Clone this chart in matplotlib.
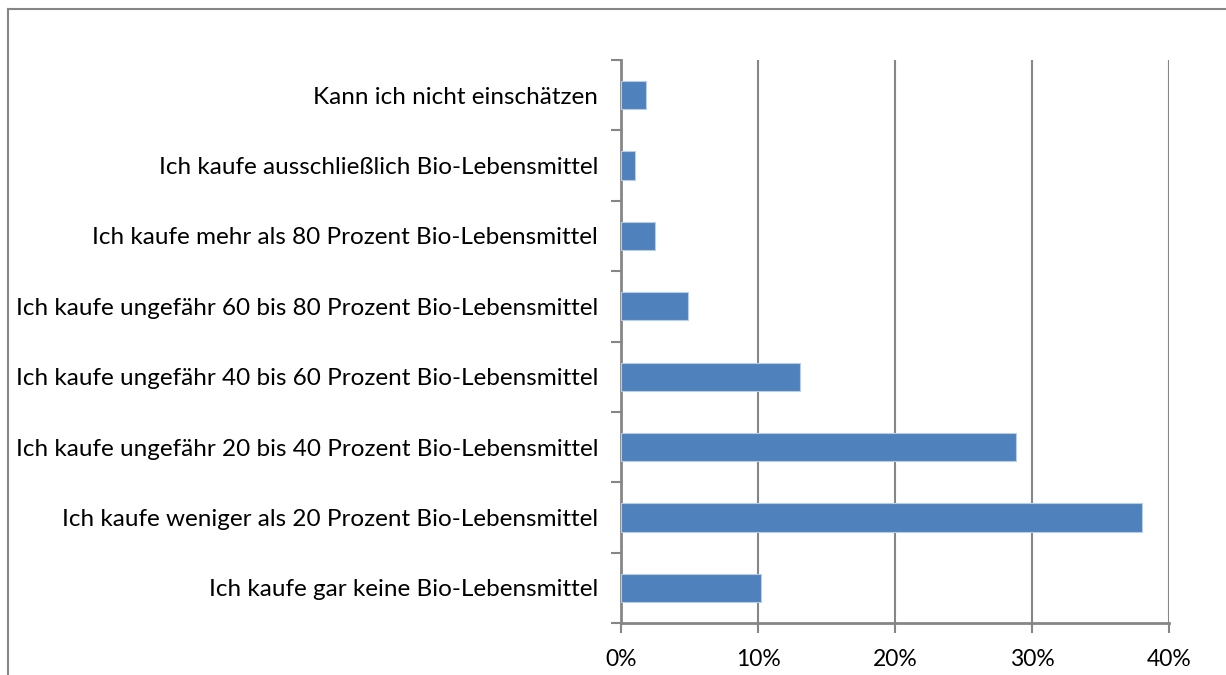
import numpy as np
import matplotlib
matplotlib.use("Agg")
import matplotlib.pyplot as plt
from matplotlib.lines import Line2D
from matplotlib.ticker import FixedLocator, PercentFormatter

# categories bottom -> top
categories = [
    "Ich kaufe gar keine Bio-Lebensmittel",
    "Ich kaufe weniger als 20 Prozent Bio-Lebensmittel",
    "Ich kaufe ungefähr 20 bis 40 Prozent Bio-Lebensmittel",
    "Ich kaufe ungefähr 40 bis 60 Prozent Bio-Lebensmittel",
    "Ich kaufe ungefähr 60 bis 80 Prozent Bio-Lebensmittel",
    "Ich kaufe mehr als 80 Prozent Bio-Lebensmittel",
    "Ich kaufe ausschließlich Bio-Lebensmittel",
    "Kann ich nicht einschätzen",
]
shares = [0.102, 0.380, 0.288, 0.131, 0.049, 0.0245, 0.0105, 0.018]
x_ticks = [0.0, 0.1, 0.2, 0.3, 0.4]

plt.rcParams["font.family"] = ["Lato", "DejaVu Sans"]
GRAY = "#868686"

fig = plt.figure(figsize=(12.26, 6.75), dpi=100)
ax = fig.add_axes([621 / 1226, 52 / 675, 548 / 1226, 563 / 675])

y = np.arange(len(categories))
ax.barh(y, shares, height=0.4, color="#4F81BD", edgecolor="#B9CDE5",
        linewidth=0.8, zorder=3)

ax.set_xlim(0, 0.4)
ax.set_ylim(-0.5, len(categories) - 0.5)
ax.set_xticks(x_ticks)
ax.xaxis.set_major_formatter(PercentFormatter(1.0, decimals=0))
ax.grid(axis="x", color=GRAY, linewidth=1.5, zorder=0)

ax.set_yticks(y)
ax.set_yticklabels(categories)
ax.yaxis.set_minor_locator(FixedLocator(np.arange(-0.5, len(categories), 1.0)))
ax.tick_params(axis="y", which="major", length=0, pad=16.5, labelsize=17.5,
               labelcolor="#000000")
ax.tick_params(axis="y", which="minor", length=7, width=1.5, color=GRAY)
ax.tick_params(axis="x", length=7, width=1.5, color=GRAY, pad=12,
               labelsize=16.5)

for side in ["top", "right"]:
    ax.spines[side].set_visible(False)
for side in ["left", "bottom"]:
    ax.spines[side].set_color(GRAY)
    ax.spines[side].set_linewidth(2)

# outer chart frame (only top and left visible in the crop)
fig.add_artist(Line2D([8 / 1226, 1.0], [1 - 9 / 675, 1 - 9 / 675],
                      transform=fig.transFigure, color=GRAY, lw=1.5))
fig.add_artist(Line2D([8 / 1226, 8 / 1226], [0.0, 1 - 9 / 675],
                      transform=fig.transFigure, color=GRAY, lw=1.5))

fig.savefig("out.png", dpi=100, facecolor="white")
